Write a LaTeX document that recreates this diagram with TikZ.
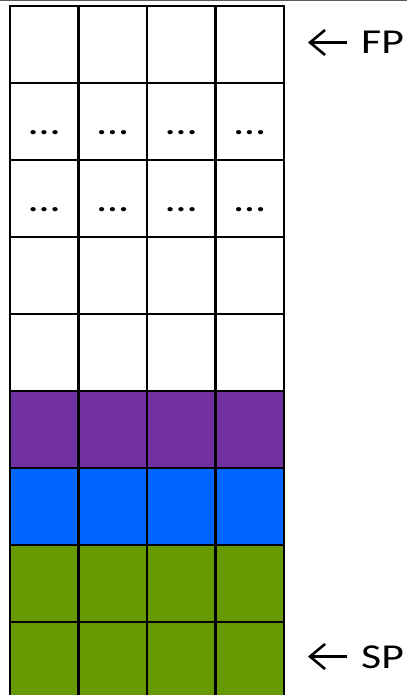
\documentclass[tikz,border=0pt]{standalone}
\usepackage{fontspec}
\setmainfont{Carlito}
\usetikzlibrary{positioning, arrows.meta}

\definecolor{framegray}{HTML}{595959}
\definecolor{slotpurple}{HTML}{7030A0}
\definecolor{slotblue}{HTML}{0066FF}
\definecolor{slotgreen}{HTML}{669900}

\newcommand{\wide}[1]{\scalebox{1.25}[1]{#1}}

\begin{document}
\begin{tikzpicture}[x=1pt, y=1pt,
      slot/.style={
         rectangle,
         draw=black,
         line width=2.6pt,
         inner sep=0pt,
         outer sep=0pt,
         minimum width=68.5pt,
         minimum height=77pt,
         text height=26pt,
         text depth=0pt,
         font=\fontsize{35}{35}\selectfont},
      ptrlabel/.style={
         anchor=base west,
         inner sep=0pt,
         font=\fontsize{35}{35}\selectfont},
      ptrarrow/.style={
         line width=2.6pt,
         -{Straight Barb[length=15pt, width=25pt, line width=2.6pt]}},
      node distance=0pt
      ]
      \useasboundingbox (0,0) rectangle (407,-695);
      \draw[framegray, line width=1.2pt] (0,-0.6) -- (407,-0.6);

      % stack slots, top row first
      \foreach \r/\col/\txt in {%
        1/white/,
        2/white/\wide{\dots},
        3/white/\wide{\dots},
        4/white/,
        5/white/,
        6/slotpurple/,
        7/slotblue/,
        8/slotgreen/,
        9/slotgreen/}
        \foreach \c in {1,...,4}
          \node[slot, fill=\col] (s\r\c) at ({10+68.5*(\c-0.5)}, {-6-77*(\r-0.5)}) {\txt};

      % frame and stack pointers
      \node[ptrlabel] (fp) at (361,-53.3) {\wide{FP}};
      \node[ptrlabel] (sp) at (361,-668) {\wide{SP}};
      \draw[ptrarrow] ([shift={(63,2)}]s14.east) -- ([shift={(24,2)}]s14.east);
      \draw[ptrarrow] ([shift={(63,4)}]s94.east) -- ([shift={(24,4)}]s94.east);
    \end{tikzpicture}
\end{document}
